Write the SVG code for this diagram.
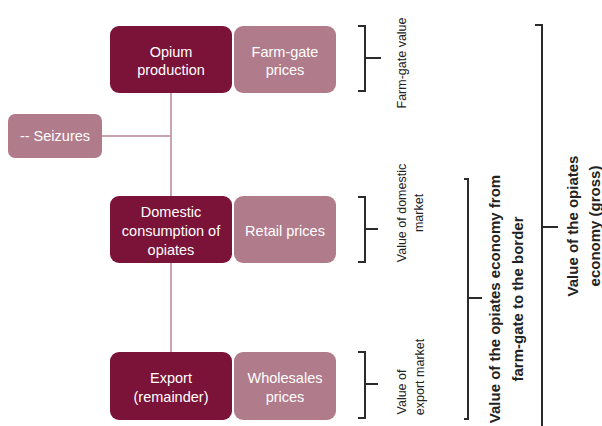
<svg xmlns="http://www.w3.org/2000/svg" width="602" height="426" viewBox="0 0 602 426">
  <style>
    .dark { fill: #7b1237; }
    .light { fill: #b07c8b; }
    .boxtxt { font-family: "Liberation Sans", Arial, sans-serif; font-size: 14.5px; fill: #ffffff; text-anchor: middle; }
    .link { stroke: #c9a3ae; stroke-width: 2; fill: none; }
    .brace { stroke: #2b2b2b; stroke-width: 2; fill: none; }
    .lbl { font-family: "Liberation Sans", Arial, sans-serif; font-size: 12.5px; fill: #222; text-anchor: middle; }
    .lblb { font-family: "Liberation Sans", Arial, sans-serif; font-size: 15px; font-weight: bold; fill: #222; text-anchor: middle; }
  </style>
  <rect width="602" height="426" fill="#ffffff"/>

  <!-- connectors -->
  <g id="connectors">
    <line class="link" x1="171" y1="93" x2="171" y2="196"/>
    <line class="link" x1="102" y1="136" x2="171" y2="136"/>
    <line class="link" x1="171" y1="263" x2="171" y2="352"/>
  </g>

  <g id="opium-production">
    <rect class="dark" x="110" y="26" width="122" height="67" rx="9"/>
    <text class="boxtxt" x="171" y="57">Opium</text>
    <text class="boxtxt" x="171" y="75">production</text>
  </g>
  <g id="farm-gate-prices">
    <rect class="light" x="234" y="26" width="102" height="67" rx="9"/>
    <text class="boxtxt" x="285" y="57">Farm-gate</text>
    <text class="boxtxt" x="285" y="75">prices</text>
  </g>
  <g id="seizures">
    <rect class="light" x="8" y="114" width="94" height="44" rx="7"/>
    <text class="boxtxt" x="55" y="141">-- Seizures</text>
  </g>
  <g id="domestic-consumption">
    <rect class="dark" x="110" y="196" width="122" height="67" rx="9"/>
    <text class="boxtxt" x="171" y="217">Domestic</text>
    <text class="boxtxt" x="171" y="236">consumption of</text>
    <text class="boxtxt" x="171" y="255">opiates</text>
  </g>
  <g id="retail-prices">
    <rect class="light" x="234" y="196" width="102" height="67" rx="9"/>
    <text class="boxtxt" x="285" y="236">Retail prices</text>
  </g>
  <g id="export">
    <rect class="dark" x="110" y="352" width="122" height="68" rx="9"/>
    <text class="boxtxt" x="171" y="383">Export</text>
    <text class="boxtxt" x="171" y="402">(remainder)</text>
  </g>
  <g id="wholesales-prices">
    <rect class="light" x="234" y="352" width="102" height="68" rx="9"/>
    <text class="boxtxt" x="285" y="383">Wholesales</text>
    <text class="boxtxt" x="285" y="402">prices</text>
  </g>

  <!-- value brackets -->
  <g id="farm-gate-value">
    <path class="brace" d="M358,26 H365 V91 H358 M365,58 H381"/>
    <text class="lbl" transform="translate(406,63) rotate(-90)">Farm-gate value</text>
  </g>
  <g id="domestic-market-value">
    <path class="brace" d="M358,197 H365 V262 H358 M365,229 H378"/>
    <text class="lbl" transform="translate(406,213) rotate(-90)">Value of domestic</text>
    <text class="lbl" transform="translate(423,213) rotate(-90)">market</text>
  </g>
  <g id="export-market-value">
    <path class="brace" d="M358,352 H365 V418 H358 M365,384 H378"/>
    <text class="lbl" transform="translate(406,392) rotate(-90)">Value of</text>
    <text class="lbl" transform="translate(424,377) rotate(-90)">export market</text>
  </g>
  <g id="border-value">
    <path class="brace" d="M464,179 H468 V419 H464 M468,298 H482"/>
    <text class="lblb" transform="translate(500,299) rotate(-90)">Value of the opiates economy from</text>
    <text class="lblb" transform="translate(523,299) rotate(-90)">farm-gate to the border</text>
  </g>
  <g id="gross-value">
    <path class="brace" d="M535,25 H542 V426 M542,227 H558"/>
    <text class="lblb" transform="translate(578,226) rotate(-90)">Value of the opiates</text>
    <text class="lblb" transform="translate(600,226) rotate(-90)">economy (gross)</text>
  </g>
</svg>
